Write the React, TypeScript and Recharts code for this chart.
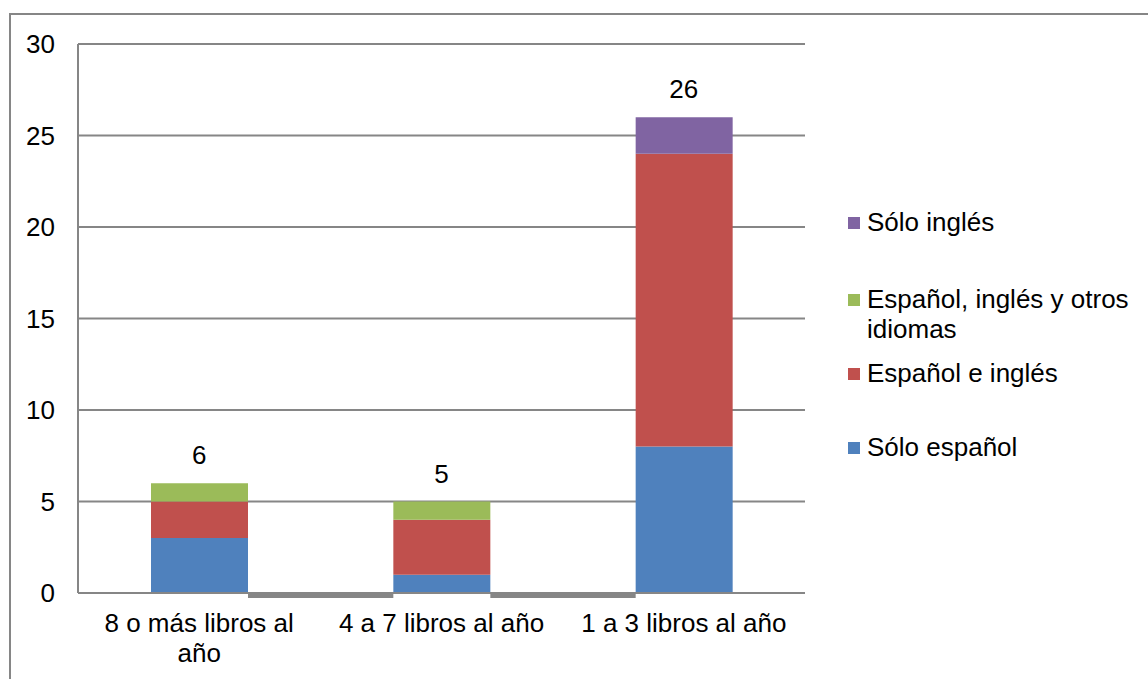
import React from "react";
import {
  Bar,
  ComposedChart,
  CartesianGrid,
  LabelList,
  Legend,
  Line,
  XAxis,
  YAxis,
} from "recharts";

const categories = ["8 o más libros al año", "4 a 7 libros al año", "1 a 3 libros al año"];
const soloEspanol = [3, 1, 8];
const espanolIngles = [2, 3, 16];
const espanolInglesOtros = [1, 1, 0];
const soloIngles = [0, 0, 2];
const totals = [6, 5, 26];
const yTicks = [0, 5, 10, 15, 20, 25, 30];

const series = [
  { key: "soloEspanol", name: "Sólo español", color: "#4F81BD" },
  { key: "espanolIngles", name: "Español e inglés", color: "#C0504D" },
  { key: "espanolInglesOtros", name: "Español, inglés y otros idiomas", color: "#9BBB59" },
  { key: "soloIngles", name: "Sólo inglés", color: "#8064A2" },
];

const data = categories.map((name, i) => ({
  name,
  soloEspanol: soloEspanol[i],
  espanolIngles: espanolIngles[i],
  espanolInglesOtros: espanolInglesOtros[i],
  soloIngles: soloIngles[i],
  total: totals[i],
}));

const W = 1148;
const H = 679;
const FONT = "'Liberation Sans', Arial, sans-serif";
const FS = 26;
const GRAY = "#868686";
const margin = { top: 44, right: 343, bottom: 26, left: 10 };
const yAxisWidth = 68;
const step = (W - margin.left - yAxisWidth - margin.right) / categories.length;

// greedy word wrap, Excel breaks the long category after "al"
function wrap(label: string, maxChars = 19) {
  const lines: string[] = [];
  let cur = "";
  for (const w of label.split(" ")) {
    const next = cur ? cur + " " + w : w;
    if (next.length > maxChars && cur) {
      lines.push(cur);
      cur = w;
    } else cur = next;
  }
  if (cur) lines.push(cur);
  return lines;
}

function CategoryTick({ x, y, payload }: any) {
  const lines = wrap(payload.value);
  return (
    <text x={x} y={y} textAnchor="middle" fontSize={FS} fontFamily={FONT} fill="#000">
      {lines.map((l, i) => (
        <tspan key={i} x={x} dy={i === 0 ? 19 : 30}>
          {l}
        </tspan>
      ))}
    </text>
  );
}

// gray strip along the floor between bars
function FloorStrip({ x, y, width, height, index }: any) {
  if (index >= categories.length - 1) return null;
  return (
    <rect
      x={x + width}
      y={y + height - 1}
      width={step - width}
      height={6}
      fill={GRAY}
    />
  );
}

function TotalLabel({ x, y, value }: any) {
  return (
    <text
      x={x}
      y={y - 28}
      textAnchor="middle"
      dominantBaseline="central"
      fontSize={FS}
      fontFamily={FONT}
      fill="#000"
    >
      {value}
    </text>
  );
}

// legend gaps picked to match the stacked layout of the original
const legendOrder = [...series].reverse();
const legendGaps = [0, 47, 14, 44];

function LegendBox() {
  return (
    <div style={{ fontFamily: FONT, fontSize: FS, color: "#000" }}>
      {legendOrder.map((s, i) => (
        <div
          key={s.key}
          style={{ display: "flex", alignItems: "flex-start", marginTop: legendGaps[i], lineHeight: "30px" }}
        >
          <span
            style={{
              width: 12,
              height: 12,
              background: s.color,
              marginTop: 10,
              marginRight: 7,
              flex: "none",
            }}
          />
          <span style={{ width: 276 }}>{s.name}</span>
        </div>
      ))}
    </div>
  );
}

export default function App() {
  return (
    <div style={{ position: "fixed", left: 0, top: 0, width: W, height: H, background: "#fff", fontFamily: FONT }}>
      <div
        style={{
          position: "absolute",
          left: 9,
          top: 13,
          right: 0,
          bottom: 0,
          borderLeft: `2px solid ${GRAY}`,
          borderTop: `2px solid ${GRAY}`,
        }}
      />
      <ComposedChart
        width={W}
        height={H}
        data={data}
        margin={margin}
        barSize={97}
        style={{ position: "absolute", left: 0, top: 0 }}
      >
        <CartesianGrid vertical={false} stroke={GRAY} strokeWidth={2} />
        <XAxis
          dataKey="name"
          tick={<CategoryTick />}
          tickLine={false}
          tickSize={0}
          tickMargin={20}
          height={60}
          axisLine={{ stroke: GRAY, strokeWidth: 2 }}
          interval={0}
        />
        <YAxis
          width={yAxisWidth}
          domain={[0, 30]}
          ticks={yTicks}
          tickLine={false}
          tickSize={0}
          tickMargin={23}
          axisLine={{ stroke: GRAY, strokeWidth: 2 }}
          tick={{ fontSize: FS, fill: "#000", fontFamily: FONT }}
        />
        <Legend
          layout="vertical"
          align="center"
          verticalAlign="middle"
          wrapperStyle={{ left: 848, top: 207, width: 298 }}
          content={() => <LegendBox />}
        />
        {series.map((s, i) => (
          <Bar
            key={s.key}
            dataKey={s.key}
            name={s.name}
            stackId="a"
            fill={s.color}
            isAnimationActive={false}
          >
            {i === 0 && <LabelList dataKey={s.key} content={<FloorStrip />} />}
          </Bar>
        ))}
        <Line
          dataKey="total"
          name="Total"
          stroke="none"
          dot={false}
          activeDot={false}
          legendType="none"
          isAnimationActive={false}
        >
          <LabelList dataKey="total" content={<TotalLabel />} />
        </Line>
      </ComposedChart>
    </div>
  );
}
